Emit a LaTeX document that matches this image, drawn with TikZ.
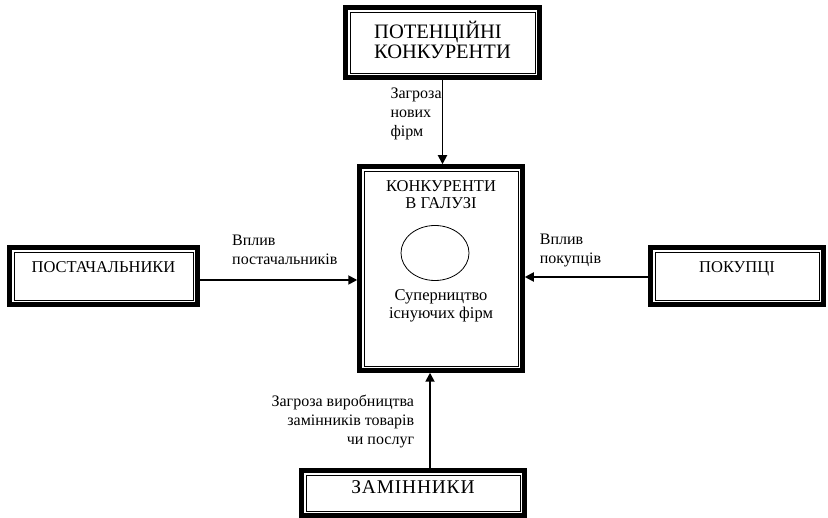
\documentclass[tikz,border=0pt]{standalone}
\usepackage{fontspec}
\setmainfont{Liberation Serif}
\usetikzlibrary{positioning,arrows.meta,shapes.geometric}

\begin{document}
\begin{tikzpicture}[x=1pt, y=-1pt,
    forcebox/.style={draw, line width=4.5pt, inner sep=0pt, align=center,
      font=\fontsize{16.5}{18}\selectfont,
      path picture={\draw[line width=0.7pt]
        ([shift={(4.6pt,4.6pt)}]path picture bounding box.south west) rectangle
        ([shift={(-4.6pt,-4.6pt)}]path picture bounding box.north east);}},
    influence/.style={line width=1.8pt, -{Triangle[length=9pt,width=9pt]}},
    note/.style={inner sep=0pt, font=\fontsize{16}{19}\selectfont},
  ]
  \useasboundingbox (0,0) rectangle (828,518);

  % forces round the industry
  \node[forcebox, minimum width=194pt, minimum height=70pt,
    label={[align=left, inner sep=0pt, yshift=2.5pt, font=\fontsize{20.5}{20}\selectfont]center:ПОТЕНЦІЙНІ\\КОНКУРЕНТИ}]
    (potent) at (442.5,42.5) {};
  \node[forcebox, minimum width=163pt, minimum height=204pt] (rivals) at (441,268.5) {};
  \node[forcebox, minimum width=188pt, minimum height=57pt,
    text height=12pt, text depth=18pt] (suppl) at (103.5,276) {ПОСТАЧАЛЬНИКИ};
  \node[forcebox, minimum width=173pt, minimum height=57pt,
    text height=12pt, text depth=18pt] (buyers) at (737,276) {ПОКУПЦІ};
  \node[forcebox, minimum width=223pt, minimum height=45pt,
    text height=13pt, text depth=11pt,
    font=\fontsize{19.5}{20}\selectfont\addfontfeatures{LetterSpace=4}] (subst) at (413,493) {ЗАМІННИКИ};

  % inside the industry box
  \node[align=center, inner sep=0pt, font=\fontsize{16.5}{17.5}\selectfont,
    below=16pt of rivals.north] (rivtitle) {КОНКУРЕНТИ\\В ГАЛУЗІ};
  \node[draw, ellipse, line width=0.8pt, minimum width=68pt, minimum height=55pt,
    inner sep=0pt] (oval) at (435,253) {};
  \node[align=center, inner sep=0pt, font=\fontsize{16.5}{18}\selectfont,
    below=8pt of oval.south -| rivals] (rivalry) {Суперництво\\існуючих фірм};

  % arrows into the industry
  \draw[influence] (potent.south) -- node[note, left, align=left, pos=0.4]
    {Загроза\\нових\\фірм} (potent.south |- rivals.north);
  \draw[influence] ([yshift=-4pt]suppl.east) -- node[note, above=14pt, align=left, pos=0.54]
    {Вплив\\постачальників} ([yshift=-4pt]suppl.east -| rivals.west);
  \draw[influence] ([yshift=-1pt]buyers.west) -- node[note, above=9pt, align=left, pos=0.63]
    {Вплив\\покупців} ([yshift=-1pt]buyers.west -| rivals.east);
  \draw[influence] ([xshift=17pt]subst.north) -- node[note, left=15pt, align=right, pos=0.49]
    {Загроза виробництва\\замінників товарів\\чи послуг} ([xshift=17pt]subst.north |- rivals.south);
\end{tikzpicture}
\end{document}
